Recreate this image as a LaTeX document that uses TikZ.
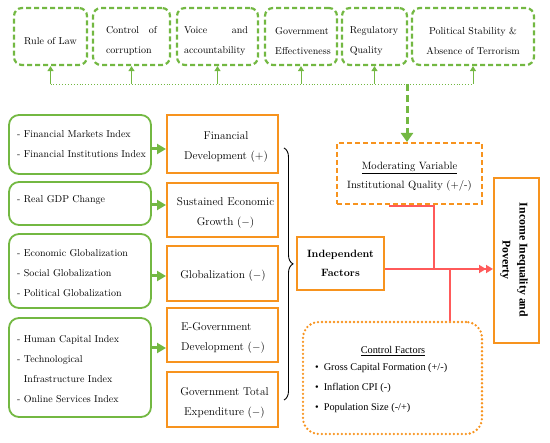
\documentclass[tikz,border=0pt]{standalone}
\usepackage{fontspec}
\newfontfamily\timesfont{Liberation Serif}
\usetikzlibrary{arrows.meta,decorations.pathreplacing,calc}
\hyphenpenalty=10000 \exhyphenpenalty=10000
\definecolor{gr}{RGB}{115,184,66}
\definecolor{orng}{RGB}{247,147,30}
\definecolor{rd}{RGB}{255,90,90}
\begin{document}
\begin{tikzpicture}[x=1pt,y=-1pt,
  topbox/.style={draw=gr, line width=2.2pt, dash pattern=on 5pt off 3pt, rounded corners=8pt, minimum height=57pt, inner sep=0pt},
  srcbox/.style={draw=gr, line width=1.8pt, rounded corners=10pt, minimum width=142pt, inner sep=0pt},
  facbox/.style={draw=orng, line width=2pt, minimum width=111pt, inner sep=0pt},
  toptxt/.style={inner sep=0pt, font=\fontsize{10}{19.5}\selectfont},
  srctxt/.style={inner sep=0pt, anchor=west, align=left, font=\fontsize{10}{20}\selectfont},
  factxt/.style={inner sep=0pt, align=center, font=\fontsize{11.3}{20}\selectfont},
  garrow/.style={gr, line width=3pt, -{Triangle[length=9pt,width=10pt]}},
  thinup/.style={gr, line width=1pt, -{Triangle[length=5pt,width=6pt]}},
  redline/.style={rd, line width=1.4pt},
]
\useasboundingbox (0,0) rectangle (550,443);
% top boxes
\node[topbox, minimum width=73pt] (rol) at (50.5,36.5) {};
\node[topbox, minimum width=77pt] (coc) at (131.5,36.5) {};
\node[topbox, minimum width=81pt] (va) at (217.5,36.5) {};
\node[topbox, minimum width=72pt] (ge) at (301,36.5) {};
\node[topbox, minimum width=65pt] (rq) at (374.5,36.5) {};
\node[topbox, minimum width=122pt] (ps) at (473,36.5) {};
\node[toptxt] (rolt) at (50.5,40.7) {Rule of Law};
\node[toptxt, text width=51pt, align=justify] (coct) at (131.5,41) {Control of corruption};
\node[toptxt, text width=64pt, align=justify] (vat) at (216,41) {Voice and accountability};
\node[toptxt, align=left] (get) at (303,41) {Government\\Effectiveness};
\node[toptxt, align=left] (rqt) at (374,41) {Regulatory\\Quality};
\node[toptxt, align=center] (pst) at (473,41) {Political Stability \&\\Absence of Terrorism};
% dotted distribution line
\coordinate (dl) at (0,84);
\coordinate (dd) at (407,84);
\draw[gr, line width=0.9pt, dotted] (rol.south |- dl) -- (ps.south |- dl);
\foreach \n in {rol,coc,va,ge,rq,ps}{\draw[thinup] (\n.south |- dl) -- (\n.south);}
% moderating box
\node[draw=orng, line width=2pt, dash pattern=on 5pt off 3pt, minimum width=145pt, minimum height=61pt, inner sep=0pt] (mod) at (409.5,173.5) {};
\node[inner sep=0pt, align=center, font=\fontsize{10.6}{19}\selectfont] (modt) at (409.5,176.5) {\underline{Moderating Variable}\\Institutional Quality (+/-)};
\draw[gr, line width=3pt, dash pattern=on 7pt off 4pt, -{Triangle[length=9pt,width=12pt]}] (dd) -- (mod.north -| dd);
% left source boxes
\node[srcbox, minimum height=59pt] (g1) at (80,144.5) {};
\node[srcbox, minimum height=43pt] (g2) at (80,203.5) {};
\node[srcbox, minimum height=74pt] (g3) at (80,271) {};
\node[srcbox, minimum height=99pt] (g4) at (80,367.5) {};
\node[srctxt] (g1t) at (17,144) {- Financial Markets Index\\- Financial Institutions Index};
\node[srctxt] (g2t) at (17,200) {- Real GDP Change};
\node[srctxt] (g3t) at (17,273) {- Economic Globalization\\- Social Globalization\\- Political Globalization};
\node[srctxt] (g4t) at (17,369) {- Human Capital Index\\- Technological\\\phantom{- }Infrastructure Index\\- Online Services Index};
% factor boxes
\node[facbox, minimum height=58pt] (o1) at (222.5,144) {};
\node[facbox, minimum height=54pt] (o2) at (222.5,210) {};
\node[facbox, minimum height=55pt] (o3) at (222.5,273.5) {};
\node[facbox, minimum height=54pt] (o4) at (222.5,335) {};
\node[facbox, minimum height=55pt] (o5) at (222.5,399.5) {};
\node[factxt] (o1t) at (226,147) {Financial\\Development (+)};
\node[factxt] (o2t) at (225.5,213) {Sustained Economic\\Growth ($-$)};
\node[factxt] (o3t) at (223,276) {Globalization ($-$)};
\node[factxt, align=left] (o4t) at (223,338) {E-Government\\Development ($-$)};
\node[factxt] (o5t) at (224.5,402.5) {Government Total\\Expenditure ($-$)};
% green arrows
\coordinate (a1) at (0,149);
\coordinate (a2) at (0,205);
\coordinate (a3) at (0,276);
\coordinate (a4) at (0,348);
\draw[garrow] (g1.east |- a1) -- (o1.west |- a1);
\draw[garrow] (g2.east |- a2) -- (o2.west |- a2);
\draw[garrow] (g3.east |- a3) -- (o3.west |- a3);
\draw[garrow] (g4.east |- a4) -- (o4.west |- a4);
% brace
\coordinate (bt) at (284,148);
\coordinate (bb) at (284,400);
\draw[black, line width=0.9pt, decorate, decoration={brace, amplitude=9pt, aspect=0.46}] (bt) -- (bb);
% independent
\node[draw=orng, line width=2pt, minimum width=87pt, minimum height=53pt, inner sep=0pt, align=center, font=\bfseries\fontsize{10.6}{19}\selectfont] (indep) at (340.5,263.5) {Independent\\Factors};
% income
\node[draw=orng, line width=2pt, minimum width=45pt, minimum height=165pt, inner sep=0pt] (income) at (516.5,260.5) {};
\node[rotate=-90, inner sep=0pt, align=center, font=\timesfont\bfseries\fontsize{11.8}{17}\selectfont] (inct) at (514,260) {Income Inequality and\\Poverty};
% control
\node[draw=orng, line width=2.6pt, dash pattern=on 0pt off 4pt, line cap=round, rounded corners=16pt, minimum width=179pt, minimum height=112pt, inner sep=0pt] (ctrl) at (392.5,378) {};
\node[inner sep=0pt, font=\timesfont\fontsize{10.3}{20}\selectfont] (ctrlt) at (393,351) {\underline{Control Factors}};
\node[inner sep=0pt, anchor=west, align=left, font=\timesfont\fontsize{10.3}{20}\selectfont] (ctrll) at (315,388) {\textbullet\hspace{5pt}Gross Capital Formation (+/-)\\\textbullet\hspace{5pt}Inflation CPI (-)\\\textbullet\hspace{5pt}Population Size (-/+)};
% red connectors
\coordinate (rj) at (434,269);
\coordinate (rc) at (450,269);
\coordinate (m0) at (389,206);
\draw[redline] (indep.east |- rj) -- (rj);
\draw[redline] (m0) -| (rj);
\draw[redline] (rc) -- (ctrl.north -| rc);
\draw[rd, line width=2.8pt, -{Triangle[length=7pt,width=8pt]Triangle[length=7pt,width=8pt]}] (rj) -- (income.west |- rj);
\end{tikzpicture}
\end{document}
